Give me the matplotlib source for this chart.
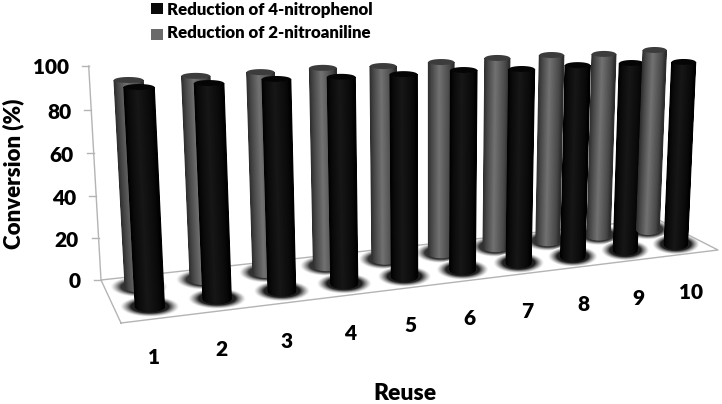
import matplotlib
matplotlib.use('Agg')
import matplotlib.pyplot as plt
import numpy as np

plt.rcParams['font.family'] = ['Lato', 'DejaVu Sans']

reuse = ['1', '2', '3', '4', '5', '6', '7', '8', '9', '10']
nitroaniline = [95.5, 95.7, 95.8, 96.2, 95.5, 95.9, 96.4, 96.4, 95.5, 96.1]
nitrophenol = [97.3, 97.3, 97.4, 96.7, 96.3, 96.6, 95.5, 95.8, 95.3, 94.3]
y_ticks = [0, 20, 40, 60, 80, 100]

# floor corners and where the verticals meet, in pixels
floor_px = [(121, 323), (718, 250), (657, 219), (101, 280)]
floor_uv = [(0, 0), (10, 0), (10, 1), (0, 1)]
vanish = (429, 5985)
wall_top = (88, 66)

A = []
b = []
for (u, v), (x, y) in zip(floor_uv, floor_px):
    A.append([u, v, 1, 0, 0, 0, -u * x, -v * x])
    A.append([0, 0, 0, u, v, 1, -u * y, -v * y])
    b += [x, y]
h = np.linalg.solve(np.array(A, float), np.array(b, float))
H = np.array([[h[0], h[1], h[2]], [h[3], h[4], h[5]], [h[6], h[7], 1.0]])

p = H @ np.array([0, 1, 1.0])
lam = (wall_top[1] * p[2] - p[1]) / (100 * (vanish[1] - wall_top[1]))
vz = lam * np.array([vanish[0], vanish[1], 1.0])


def project(u, v, z=0):
    q = u * H[:, 0] + v * H[:, 1] + z * vz + H[:, 2]
    return q[0] / q[2], q[1] / q[2]


v_black = 0.27
v_gray = 0.74
gray_stops = [0x2c, 0x47, 0x72, 0x48, 0x2b]
black_stops = [0x00, 0x0a, 0x17, 0x0a, 0x00]
stop_pos = [0, 0.15, 0.45, 0.85, 1]


def half_width(c, v, z=0):
    # left bars are a bit narrower than the perspective gives
    r_u = 0.235 * (0.9 + 0.1 * c / 10)
    return (project(c + r_u, v, z)[0] - project(c - r_u, v, z)[0]) / 2


def shadow(ax, c, v, dark):
    th = np.linspace(0, 2 * np.pi, 60)
    cx, cy = project(c, v)
    w = half_width(c, v)
    for k in np.linspace(0, 1, 24):
        s = 2.05 - 1.05 * k
        g = 1 - (1 - dark) * min(1, k / 0.7) ** 1.3
        ax.fill(cx + s * w * np.cos(th), cy + s * 5 * np.sin(th), color=str(g), lw=0, zorder=1)


def cylinder(ax, c, v, val, stops, top_col, z):
    bx, by = project(c, v)
    tx, ty = project(c, v, val)
    wb = half_width(c, v)
    wt = half_width(c, v, val)
    edges = np.linspace(-1, 1, 41)
    arc = np.sqrt(1 - edges ** 2)
    for i in range(len(edges) - 1):
        e = edges[i:i + 2]
        a = arc[i:i + 2]
        g = np.interp((e.mean() + 1) / 2, stop_pos, stops) / 255
        xs = list(bx + e * wb) + list((tx + e * wt)[::-1])
        ys = list(by + 5 * a) + list((ty + 3 * a)[::-1])
        ax.fill(xs, ys, color=str(g), lw=0.8, zorder=z)
    th = np.linspace(0, 2 * np.pi, 60)
    ax.fill(tx + wt * np.cos(th), ty + 3 * np.sin(th), color=top_col, lw=0, zorder=z + 0.5)


fig = plt.figure(figsize=(7.22, 4.04), dpi=100)
ax = fig.add_axes([0, 0, 1, 1])
ax.set_xlim(0, 722)
ax.set_ylim(404, 0)
ax.axis('off')

n = len(reuse)
for i in range(n):
    shadow(ax, i + 0.5, v_gray, 0.2)
for i in range(n):
    shadow(ax, i + 0.5, v_black, 0.12)

# floor and value axis
line = '#b4b4b4'
corners = [project(u, v) for u, v in [(0, 0), (10, 0), (10, 1), (0, 1), (0, 0)]]
ax.plot([c[0] for c in corners], [c[1] for c in corners], color=line, lw=1, zorder=2)
wall = [project(0, 1, 0), project(0, 1, 100)]
ax.plot([c[0] for c in wall], [c[1] for c in wall], color=line, lw=1, zorder=2)
for t in y_ticks:
    tx, ty = project(0, 1, t)
    ax.plot([tx - 7, tx], [ty, ty], color=line, lw=1, zorder=2)
    ax.text(tx - 20, ty + 2, str(t), ha='right', va='center', fontsize=15,
            fontweight='heavy', color='black')

for i in range(n):
    z = 10 + 2 * i
    cylinder(ax, i + 0.5, v_gray, nitroaniline[i], gray_stops, '#3c3c3c', z)
    cylinder(ax, i + 0.5, v_black, nitrophenol[i], black_stops, '#050505', z + 1)

for i, lab in enumerate(reuse):
    lx, ly = project(i + 0.5, 0)
    ax.text(lx - 2 - 4 * np.sin(np.pi * i / 9), ly + 39, lab, ha='center', va='center', fontsize=15,
            fontweight='heavy', color='black')

ax.text(13, 174, 'Conversion (%)', rotation=90, ha='center', va='center', fontsize=16,
        fontweight='heavy')
ax.text(405, 393, 'Reuse', ha='center', va='center', fontsize=16.5, fontweight='heavy')

# legend
ax.fill([151, 163, 163, 151], [3, 3, 14, 14], color='#0a0a0a', lw=0)
ax.fill([151, 163, 163, 151], [29, 29, 40, 40], color='#6a6a6a', lw=0)
ax.text(167, 10, 'Reduction of 4-nitrophenol', ha='left', va='center', fontsize=12.2, fontweight='heavy')
ax.text(167, 33, 'Reduction of 2-nitroaniline', ha='left', va='center', fontsize=12.2, fontweight='heavy')

fig.savefig('out.png', dpi=100)
